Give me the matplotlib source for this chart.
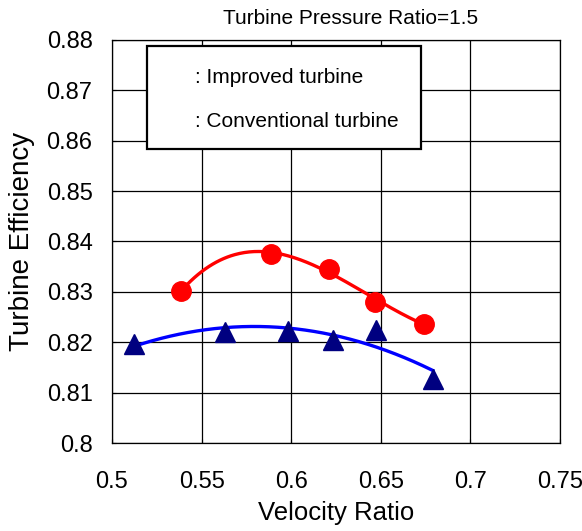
import numpy as np
import matplotlib
matplotlib.use("Agg")
import matplotlib.pyplot as plt
from matplotlib.patches import Rectangle

plt.rcParams['font.family'] = ['Liberation Sans', 'DejaVu Sans']

improved_x = [0.5385, 0.5887, 0.6211, 0.6468, 0.6741]
improved_y = [0.8302, 0.8375, 0.8346, 0.8280, 0.8237]
conv_x = [0.5123, 0.5630, 0.5985, 0.6233, 0.6473, 0.6790]
conv_y = [0.8197, 0.8221, 0.8222, 0.8205, 0.8225, 0.8128]

xticks = [0.5, 0.55, 0.6, 0.65, 0.7, 0.75]
xticklabels = ['0.5', '0.55', '0.6', '0.65', '0.7', '0.75']
yticks = [0.80, 0.81, 0.82, 0.83, 0.84, 0.85, 0.86, 0.87, 0.88]
yticklabels = ['0.8', '0.81', '0.82', '0.83', '0.84', '0.85', '0.86', '0.87', '0.88']

fig = plt.figure(figsize=(5.82, 5.31), dpi=100)
ax = fig.add_axes([0.1924, 0.1657, 0.7698, 0.759])

# trend curves (polynomial fits)
pr = np.polyfit(improved_x, improved_y, 3)
xr = np.linspace(improved_x[0], improved_x[-1], 200)
ax.plot(xr, np.polyval(pr, xr), color='#FF0000', lw=2.4, zorder=3)
pb = np.polyfit(conv_x, conv_y, 2)
xb = np.linspace(conv_x[0], conv_x[-1], 200)
ax.plot(xb, np.polyval(pb, xb), color='#0000FF', lw=2.4, zorder=3)

ax.plot(improved_x, improved_y, 'o', color='#FF0000', ms=14, mec='#FF0000', zorder=4)
ax.plot(conv_x, conv_y, '^', color='#000080', ms=15, mec='#000080', zorder=4)

ax.set_xlim(0.5, 0.75)
ax.set_ylim(0.80, 0.88)
ax.set_xticks(xticks)
ax.set_xticklabels(xticklabels)
ax.set_yticks(yticks)
ax.set_yticklabels(yticklabels)
ax.grid(True, color='black', lw=0.9)
ax.set_axisbelow(True)
ax.tick_params(axis='y', direction='in', length=3, labelsize=17, pad=14)
ax.tick_params(axis='x', direction='in', length=3, labelsize=17, pad=20)
for s in ax.spines.values():
    s.set_color('black')
    s.set_linewidth(0.9)

ax.set_xlabel('Velocity Ratio', fontsize=18.5)
ax.set_ylabel('Turbine Efficiency', fontsize=20)
ax.xaxis.set_label_coords(0.5, -0.143)
ax.yaxis.set_label_coords(-0.172, 0.5)

fig.text(0.822, 0.966, 'Turbine Pressure Ratio=1.5', fontsize=15, ha='right', va='center')

ax.add_patch(Rectangle((0.078, 0.73), 0.612, 0.255, transform=ax.transAxes,
                       facecolor='white', edgecolor='black', lw=1.6, zorder=5))
ax.text(0.185, 0.906, ': Improved turbine', transform=ax.transAxes, fontsize=15, va='center', zorder=6)
ax.text(0.185, 0.797, ': Conventional turbine', transform=ax.transAxes, fontsize=15, va='center', zorder=6)

fig.savefig('out.png', dpi=100)
